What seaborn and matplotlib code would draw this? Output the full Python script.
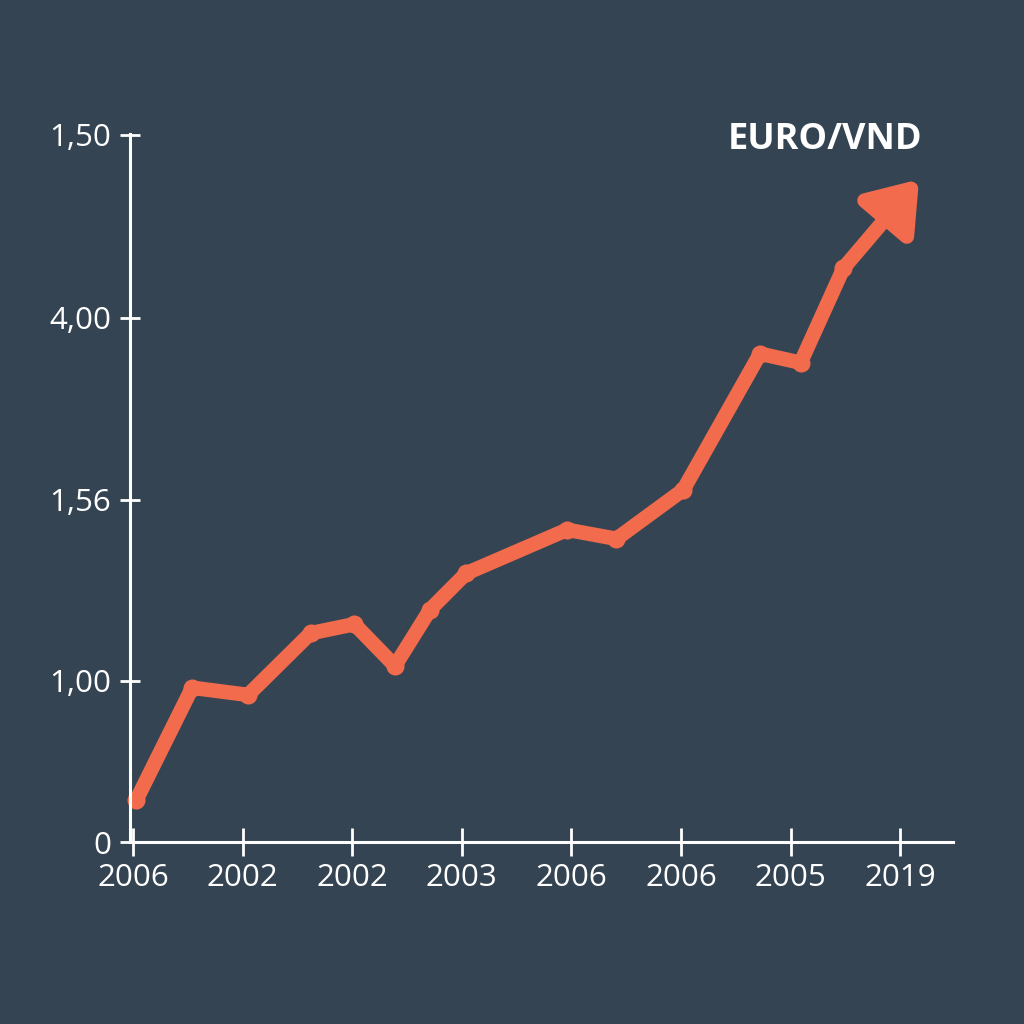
import matplotlib
matplotlib.use("Agg")
import matplotlib.pyplot as plt
import seaborn as sns
import pandas as pd

# ---- data ----
x_pos = [0.03, 0.54, 1.05, 1.62, 2.02, 2.39, 2.71, 3.04, 3.96, 4.41, 5.02, 5.72, 6.09, 6.48]
values = [0.23, 0.85, 0.81, 1.15, 1.20, 0.97, 1.28, 1.48, 1.72, 1.67, 1.94, 2.69, 2.64, 3.16]
arrow_tip = (7.17, 3.65)
x_ticks = [0, 1, 2, 3, 4, 5, 6, 7]
x_labels = ["2006", "2002", "2002", "2003", "2006", "2006", "2005", "2019"]
y_ticks = [0, 0.887, 1.884, 2.887, 3.895]
y_labels = ["0", "1,00", "1,56", "4,00", "1,50"]
title = "EURO/VND"

BG = "#354452"
LINE = "#F26B4C"
WHITE = "#FFFFFF"

sns.set_theme(style="white")
plt.rcParams['font.family'] = ['Open Sans', 'DejaVu Sans']

fig = plt.figure(figsize=(10.24, 10.24), dpi=100, facecolor=BG)
# axes: px 130..953 horizontally, 134..842 vertically
ax = fig.add_axes([130 / 1024, (1024 - 842) / 1024, (953 - 130) / 1024, (842 - 134) / 1024])
ax.set_facecolor(BG)

df = pd.DataFrame({"x": x_pos, "y": values})
sns.lineplot(data=df, x="x", y="y", ax=ax, color=LINE, linewidth=10.5,
             marker="o", markersize=13, markeredgewidth=0,
             solid_joinstyle="round", solid_capstyle="round", clip_on=False)

ax.annotate("", xy=arrow_tip, xytext=(x_pos[-1], values[-1]),
            arrowprops=dict(arrowstyle="-|>,head_length=0.7,head_width=0.5",
                            color=LINE, lw=10.5, mutation_scale=40,
                            shrinkA=0, shrinkB=0, joinstyle="round",
                            capstyle="round"),
            annotation_clip=False)

ax.set_xlim(-0.027, 7.48)
ax.set_ylim(0, 3.9)
ax.set_xticks(x_ticks)
ax.set_xticklabels(x_labels)
ax.set_yticks(y_ticks)
ax.set_yticklabels(y_labels)
ax.set_xlabel("")
ax.set_ylabel("")

for s in ["top", "right"]:
    ax.spines[s].set_visible(False)
for s in ["left", "bottom"]:
    ax.spines[s].set_color(WHITE)
    ax.spines[s].set_linewidth(2.2)

ax.tick_params(axis="x", bottom=True, direction="inout", length=20, width=2,
               colors=WHITE, labelsize=22.5, pad=5)
ax.tick_params(axis="y", left=True, direction="inout", length=15, width=2,
               colors=WHITE, labelsize=22.5, pad=6)

ax.text(825, 1024 - 140, title, transform=None, color=WHITE, fontsize=26,
        fontweight="bold", ha="center", va="center")

fig.savefig("out.png", dpi=100, facecolor=BG)
